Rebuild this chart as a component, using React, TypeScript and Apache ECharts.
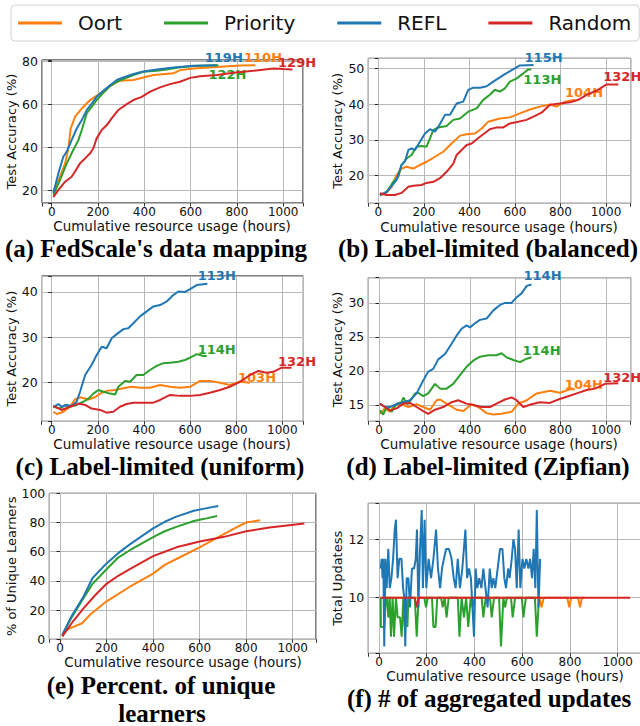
import React, { useEffect, useRef } from 'react';
import * as echarts from 'echarts';

const methods = ['Oort', 'Priority', 'REFL', 'Random'];
const colors = ['#ff7f0e', '#2ca02c', '#1f77b4', '#d62728'];
const xName = 'Cumulative resource usage (hours)';

// (a) FedScale's data mapping
const oortA = [[7,18.9],[36,26.3],[58,32.5],[72,39.5],[82,48.7],[101,54.2],[130,58],[166,61.9],[209,65],[252,68.4],[295,70.9],[353,71.2],[396,72.4],[440,73.5],[526,74.3],[554,75.8],[612,76.6],[713,77.3],[814,78],[880,78.1]];
const prioA = [[7,17.8],[36,24.8],[65,32.5],[93,38.7],[115,43.3],[130,48],[151,55.7],[173,58.8],[194,61.9],[223,65.3],[252,68.4],[281,70.4],[317,72],[353,73.5],[396,75],[454,75.5],[497,76.1],[540,76.9],[612,77.7],[720,78.1]];
const reflA = [[7,18.9],[29,27.9],[50,35.6],[65,38],[86,43.3],[108,48.7],[130,52.6],[151,57.2],[173,60.3],[194,63.4],[223,66.2],[252,68.8],[281,71.2],[309,72.4],[353,74],[396,75.2],[454,76.1],[526,77],[612,77.8],[713,78.1]];
const randA = [[7,16.8],[29,20.2],[58,24],[86,26.3],[101,28.7],[122,32.5],[144,34.8],[166,37.2],[180,39.5],[194,44.1],[216,48],[238,50.3],[259,53.4],[288,57.3],[324,60],[353,61.9],[389,63.4],[425,65.8],[468,67.8],[511,69.3],[554,70.4],[598,72.2],[641,73],[713,73.5],[785,74.6],[871,75.5],[958,76.6],[1001,76.3],[1040,76.1]];
const labelsA = ['110H', '122H', '119H', '129H'];

// (b) Label-limited (balanced)
const oortB = [[7,14.6],[30,14.9],[59,16.9],[80,20.2],[102,22],[124,22.5],[154,22],[183,23],[212,23.9],[249,25.3],[285,26.7],[315,28.6],[359,31.2],[388,31.6],[425,31.8],[454,33.2],[483,35.1],[534,36],[578,36.3],[622,37.4],[666,38.5],[710,39.3],[754,39.9],[783,39.3],[820,40.7],[864,41.2]];
const prioB = [[7,14.6],[37,15.5],[66,18.3],[88,19.7],[102,23],[124,24.8],[146,25.8],[168,28.1],[190,28.3],[212,28.1],[242,32.8],[264,33.5],[300,33.9],[329,35.6],[359,36],[395,37.9],[432,38.8],[461,41.2],[490,42.6],[512,44],[534,43.5],[556,44.4],[578,46.3],[608,47.2],[637,48.6],[659,49.7],[672,49.7]];
const reflB = [[7,14.6],[37,15.5],[80,18.8],[102,23],[117,24],[132,27.2],[146,27.6],[161,27.2],[183,29.5],[205,31.8],[227,33],[249,32.3],[264,33.7],[293,37],[315,37],[344,40.2],[373,40.7],[395,44],[417,44.6],[447,44.6],[476,45],[505,46.3],[549,48.1],[586,49.5],[622,50.8],[682,50.9]];
const randB = [[7,15.1],[37,14.6],[73,14.6],[102,15.2],[132,16.9],[154,17.2],[190,17.4],[212,18],[242,18.3],[271,19.3],[300,21.1],[329,23.3],[344,25.8],[366,27.2],[388,28.6],[410,29],[432,30.2],[461,31.6],[490,33],[520,33.5],[549,33.5],[578,34.6],[615,35.1],[651,35.6],[681,36.5],[717,37.6],[754,39.8],[798,40.2],[842,40.5],[878,41.2],[915,42.6],[959,43.8],[1003,45.5],[1054,45.5]];
const labelsB = ['104H', '113H', '115H', '132H'];

// (c) Label-limited (uniform)
const oortC = [[7,13.6],[22,13.1],[51,13.6],[79,14.7],[101,16.3],[123,16.8],[159,16.3],[188,16.8],[210,17.6],[238,18.2],[275,18.4],[311,18.8],[347,19.1],[383,18.9],[426,18.9],[470,19.5],[513,19.1],[556,18.9],[600,19.1],[643,20.4],[686,20.4],[730,20],[772,19.5],[816,20.2],[860,20]];
const prioC = [[7,14.7],[36,14.3],[58,15.1],[79,14.7],[108,15.1],[137,15.8],[159,16.5],[181,17.6],[202,18.4],[224,18],[253,17.6],[275,17.4],[289,19.1],[318,20.4],[340,20.2],[368,21.7],[397,21.7],[426,22.8],[455,23.7],[484,24.3],[513,24.4],[549,24.6],[578,25],[607,25.7],[629,26.3],[658,25.9],[672,25.9]];
const reflC = [[7,14.7],[29,15.3],[43,14.7],[65,15.1],[87,14.9],[108,15.8],[123,18],[145,21.7],[159,22.8],[173,23.9],[195,26.1],[217,27.9],[238,27.6],[260,29.8],[282,30.7],[311,31.8],[332,32],[354,33.1],[383,34.6],[412,35.7],[441,36.8],[470,37.1],[499,37.9],[527,39.3],[549,40.1],[578,40],[600,40.6],[629,41.5],[675,41.8]];
const randC = [[7,14.9],[43,14],[79,14.7],[116,15.4],[145,15.1],[173,14.3],[210,14],[238,13.4],[267,13.6],[296,14.7],[325,15.3],[354,15.6],[397,15.6],[441,15.6],[470,16.2],[513,17.3],[556,17.1],[600,17.1],[643,17.3],[686,17.8],[730,18.4],[772,19.1],[816,20.2],[860,21.7],[896,22.6],[932,22.2],[961,22.4],[997,23.3],[1040,23.3]];
const labelsC = ['103H', '114H', '113H', '132H'];

// (d) Label-limited (Zipfian)
const oortD = [[4,13.7],[26,14.5],[48,14],[70,15],[100,15.1],[129,14.7],[166,15.1],[195,14.7],[225,14.3],[254,15.7],[269,15.8],[298,15.2],[342,14.3],[372,14.1],[408,15.1],[437,14.7],[474,13.8],[504,13.6],[540,13.7],[584,14],[614,15.2],[651,15.7],[695,16.7],[753,17.1],[797,16.8],[841,17.3],[863,17.3]];
const prioD = [[4,14.2],[19,13.6],[34,14.7],[56,14],[78,15.2],[100,15.4],[107,16.1],[125,15.1],[144,15.9],[159,16.7],[173,16.8],[195,16.3],[217,16.7],[247,18.1],[269,17.4],[298,17.4],[327,18.1],[357,19.4],[386,20.6],[415,21.5],[445,22.1],[482,22.3],[518,22.3],[540,22.6],[562,22],[592,21.6],[621,21.3],[651,21.8],[672,22]];
const reflD = [[4,15.2],[26,14.7],[48,14.7],[78,15.1],[107,15.4],[137,15.7],[166,16.7],[195,18.6],[217,19.9],[239,20.3],[261,21.7],[291,22.5],[320,24],[342,25.2],[364,26.2],[386,26.7],[401,26.4],[423,27],[445,27.5],[474,27.7],[504,28.9],[533,29.7],[555,30],[584,30],[606,30.8],[628,31.4],[651,32.5],[672,32.7]];
const randD = [[4,15.2],[26,14.7],[48,14.2],[78,14.5],[107,15.2],[137,15.3],[166,14.7],[195,14.1],[217,13.7],[247,14.3],[283,14.7],[320,15.4],[349,15.7],[386,15.2],[415,15],[452,14.7],[489,14.7],[518,15.2],[555,15.8],[584,16.1],[606,15.7],[636,14.7],[672,15.1],[709,15.4],[753,15.3],[790,15.8],[827,16.2],[871,16.7],[915,17.2],[952,17.4],[996,18.1],[1054,18.2]];
const labelsD = ['104H', '114H', '114H', '132H'];

// (e) Percent. of unique learners
const oortE = [[10,2],[20,6],[50,8],[95,11],[130,17],[200,26],[300,36],[400,45],[450,51],[500,55],[600,63],[680,70],[750,76],[800,80],[860,81.5]];
const prioE = [[10,3],[50,15],[100,28],[140,38],[200,48],[250,56],[300,61],[400,70],[450,74],[500,77],[575,81],[620,82.5],[675,84.5]];
const reflE = [[10,3],[50,16],[100,29],[140,42],[200,52],[250,59],[300,65],[400,76],[450,80.5],[500,84],[575,88],[620,89.5],[680,91.3]];
const randE = [[10,2],[50,11],[100,21],[150,30],[200,38],[250,43.5],[300,48],[400,57],[450,60],[500,63],[600,67],[700,70],[800,74],[900,76.5],[1050,79.3]];

// (f) # of aggregated updates
const oortF = [[7,10],[672,10],[681,9.67],[690,10],[789,10],[797,9.67],[805,10],[834,10],[842,9.67],[850,10],[862,10]];
const prioF = [[7,10],[8,9],[15,9],[22,9],[29,10],[34,10],[39,9.33],[45,10],[50,8.67],[57,10],[63,8.67],[71,10],[78,9.33],[88,9.33],[95,8.67],[102,10],[108,9],[113,10],[119,9],[123,10],[150,10],[158,8.67],[166,10],[190,10],[197,9.67],[204,10],[222,10],[228,9],[237,9],[244,10],[260,10],[267,9.67],[275,10],[283,9.33],[292,10],[330,10],[337,8.67],[346,10],[356,9.33],[365,10],[374,9],[384,10],[392,9.67],[400,10],[430,10],[437,9.33],[447,10],[465,10],[472,9.33],[482,10],[503,10],[511,8.33],[521,10],[528,9.67],[536,10],[553,10],[560,9.33],[570,10],[598,10],[605,9.33],[615,10],[653,10],[661,8.67],[670,10],[680,10]];
const reflF = [[7,11],[11,11.33],[15,10.67],[18,11.33],[22,8.33],[27,11.33],[32,10.33],[39,11.67],[45,10.33],[52,10.67],[59,11.33],[66,12.33],[71,12.67],[78,10.67],[85,11.33],[94,11.33],[101,10.33],[106,10],[110,8.33],[116,10.67],[123,10.67],[130,9.67],[138,11],[147,11],[154,11.33],[159,12.33],[165,9.67],[172,11.67],[179,13],[184,10.33],[191,12.67],[198,10.33],[208,11.33],[218,10.67],[228,11.33],[239,12.33],[247,11],[256,10.33],[264,11],[272,11.33],[281,11.67],[293,11.67],[304,11.33],[313,10.67],[321,10.33],[330,11.33],[339,10.33],[349,11],[362,12.33],[369,10.67],[377,11],[385,10.67],[398,8.67],[405,11],[412,10.33],[420,10.67],[429,10.33],[437,11],[446,10.33],[455,9.67],[464,11],[472,10.33],[479,10.67],[487,10.33],[497,11],[507,11.67],[517,11.67],[525,10.67],[532,10.33],[541,11],[547,10.67],[556,11.33],[563,12],[570,11.67],[577,10.33],[585,12.33],[592,10.33],[601,11.33],[609,11],[617,11.33],[626,11],[633,11.33],[641,10.67],[648,11.67],[655,10.33],[661,13],[668,9.67],[675,11.33]];
const randF = [[7,10],[150,10],[158,9.67],[166,10],[1052,10]];

const captions = ["(a) FedScale's data mapping", '(b) Label-limited (balanced)', '(c) Label-limited (uniform)', '(d) Label-limited (Zipfian)', '(e) Percent. of unique', 'learners', '(f) # of aggregated updates'];
const yNames = ['Test Accuracy (%)', 'Test Accuracy (%)', 'Test Accuracy (%)', 'Test Accuracy (%)', '% of Unique Learners', 'Total Updatess'];

const panelData = [
  [oortA, prioA, reflA, randA],
  [oortB, prioB, reflB, randB],
  [oortC, prioC, reflC, randC],
  [oortD, prioD, reflD, randD],
  [oortE, prioE, reflE, randE],
  [oortF, prioF, reflF, randF],
];
const panelLabels = [labelsA, labelsB, labelsC, labelsD, null, null];

// layout (pixels) and axis ranges
const layout = [
  { grid: { left: 42, top: 60, width: 261, height: 143 }, x: [-42, 1085.5], y: [14.1, 80.5], yi: 20, gap: 21,
    xt: [172, 226], off: [[7.6, -8], [9, 9], [7, -8], [4.6, -7]] },
  { grid: { left: 368.3, top: 58.3, width: 262.4, height: 145 }, x: [-43.9, 1108.5], y: [12.3, 52.8], yi: 10, gap: 20,
    xt: [499, 226.5], off: [[9, -7], [11, 10], [10, -7.4], [4, -8]] },
  { grid: { left: 41.7, top: 276, width: 261.6, height: 145.3 }, x: [-43.4, 1091], y: [11.5, 43.5], yi: 10, gap: 21,
    xt: [172, 444], off: [[7, -5], [10, -6], [9.4, -8], [5.5, -6]] },
  { grid: { left: 368.3, top: 277.7, width: 262.4, height: 143.6 }, x: [-47, 1109], y: [12.6, 33.7], yi: 5, gap: 20,
    xt: [499, 444], off: [[9, -5], [10, -7], [11, -9], [4, -6]] },
  { grid: { left: 49.3, top: 493.3, width: 266.7, height: 146 }, x: [-46, 1100], y: [0, 100], yi: 20, gap: 29,
    xt: [183, 662], off: null },
  { grid: { left: 368.3, top: 503.3, width: 273.3, height: 150 }, x: [-44.8, 1100], y: [8.1, 13.23], yi: 2, gap: 20,
    xt: [505, 676], off: null },
];
const captionPos = [[156, 248], [488, 248], [160, 466.7], [488, 466.7], [161, 685], [162, 713], [489, 698]];

const FONT = 'DejaVu Sans';
const TXT = '#111';

function isMultiple(v: number, step: number) {
  const r = Math.abs(v / step - Math.round(v / step));
  return r < 1e-6;
}

export default function App() {
  const ref = useRef<HTMLDivElement>(null);
  useEffect(() => {
    if (!ref.current) return;
    const chart = echarts.init(ref.current, undefined, { renderer: 'svg' });
    const grids: any[] = [];
    const xAxes: any[] = [];
    const yAxes: any[] = [];
    const series: any[] = [];
    const graphic: any[] = [];
    layout.forEach((L, i) => {
      grids.push({ ...L.grid, show: true, borderColor: '#000', borderWidth: 1, backgroundColor: 'transparent',
        containLabel: false, outerBoundsMode: 'none' });
      xAxes.push({
        type: 'value', gridIndex: i, min: L.x[0], max: L.x[1], minInterval: 200, maxInterval: 200,
        axisLine: { show: false },
        axisTick: { show: true, length: 3.5, lineStyle: { color: '#000', width: 0.8 } },
        axisLabel: { fontSize: 12, color: TXT, fontFamily: FONT, margin: 2.5,
          formatter: (v: number) => (isMultiple(v, 200) ? String(Math.round(v)) : '') },
        splitLine: { show: true, lineStyle: { color: '#b8b8b8', width: 1 } },
      });
      graphic.push({
        type: 'text', id: 'xname' + i, x: L.xt[0], y: L.xt[1], silent: true, z: 10,
        style: { text: xName, fontSize: 13.5, fontFamily: FONT, fill: TXT, align: 'center', verticalAlign: 'middle' },
      });
      yAxes.push({
        type: 'value', gridIndex: i, min: L.y[0], max: L.y[1], minInterval: L.yi, maxInterval: L.yi,
        name: yNames[i], nameLocation: 'middle', nameGap: L.gap, nameRotate: 90,
        nameTextStyle: { fontSize: 13, color: TXT, fontFamily: FONT },
        axisLine: { show: false },
        axisTick: { show: true, length: 3.5, lineStyle: { color: '#000', width: 0.8 } },
        axisLabel: { fontSize: 12.5, color: TXT, fontFamily: FONT, margin: 4,
          formatter: (v: number) => (isMultiple(v, L.yi) ? String(Math.round(v)) : '') },
        splitLine: { show: true, lineStyle: { color: '#b8b8b8', width: 1 } },
      });
      panelData[i].forEach((data, m) => {
        const labels = panelLabels[i];
        const s: any = {
          type: 'line', name: methods[m], xAxisIndex: i, yAxisIndex: i, data,
          showSymbol: false, symbol: 'none', silent: true,
          lineStyle: { color: colors[m], width: 2 }, itemStyle: { color: colors[m] },
          emphasis: { disabled: true }, z: 2 + m,
        };
        if (labels && L.off) {
          s.markPoint = {
            symbol: 'circle', symbolSize: 0.1, silent: true,
            itemStyle: { color: 'rgba(0,0,0,0)' },
            label: { show: true, position: 'inside', formatter: labels[m], color: colors[m], fontWeight: 'bold',
              fontSize: 13, fontFamily: FONT, offset: L.off[m] },
            data: [{ coord: data[data.length - 1] }],
          };
        }
        series.push(s);
      });
    });
    captions.forEach((t, k) => graphic.push({
      type: 'text', id: 'cap' + k, x: captionPos[k][0], y: captionPos[k][1], silent: true,
      style: { text: t, fontSize: 25, fontWeight: 'bold', fontFamily: 'Liberation Serif', fill: '#000',
        align: 'center', verticalAlign: 'middle' },
    }));
    chart.setOption({
      animation: false,
      backgroundColor: '#fff',
      legend: {
        data: methods, left: 11, top: 5, icon: 'rect', itemWidth: 44, itemHeight: 3, itemGap: 42,
        padding: [8, 8, 8, 7], backgroundColor: '#fff', borderColor: '#d0d0d0', borderWidth: 1, borderRadius: 4,
        textStyle: { fontSize: 20, fontFamily: FONT, color: TXT, padding: [0, 0, 0, 11] },
        selectedMode: false,
      },
      grid: grids, xAxis: xAxes, yAxis: yAxes, series, graphic,
    });
    return () => chart.dispose();
  }, []);
  return <div ref={ref} style={{ position: 'absolute', left: 0, top: 0, width: 640, height: 726 }} />;
}
